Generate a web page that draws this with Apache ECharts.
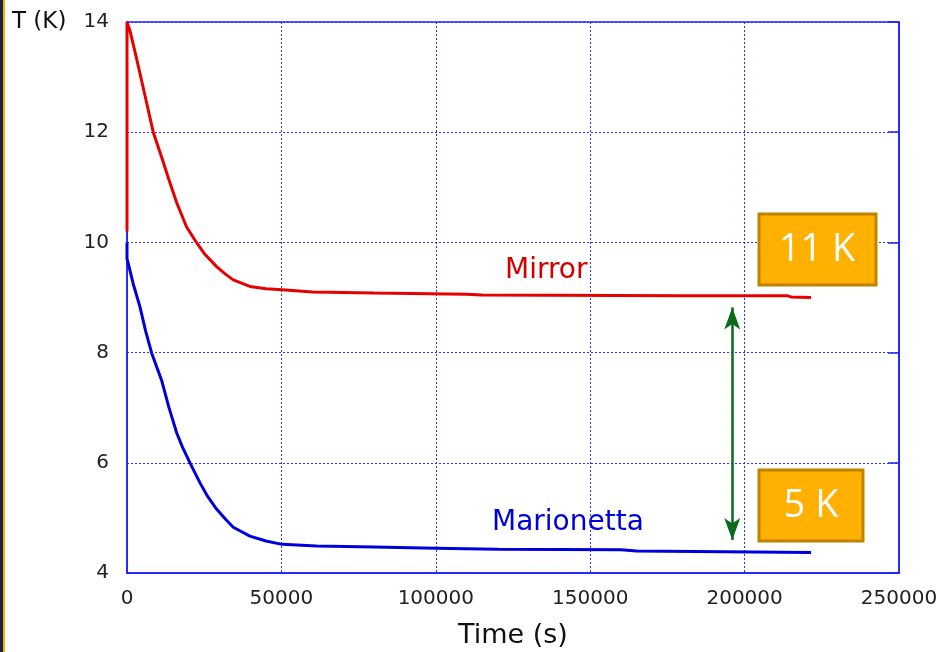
<!DOCTYPE html>
<html>
<head>
<meta charset="utf-8">
<script src="https://cdn.jsdelivr.net/npm/echarts@6/dist/echarts.min.js"></script>
<style>html,body{margin:0;padding:0;background:#fff}#c{width:940px;height:652px}</style>
</head>
<body>
<div id="c"></div>
<script>
// Time (s) vs temperature (K)
const mirrorTime = [0, 0, 970, 2500, 5000, 8500, 11200, 13500, 16100, 19300, 22600, 25000, 29000, 32000, 34400, 39800, 45000, 50200, 60000, 80000, 110000, 115000, 180000, 214000, 215000, 221500];
const mirrorTemp = [10.2, 14.0, 13.84, 13.48, 12.87, 12.0, 11.55, 11.15, 10.72, 10.28, 9.99, 9.8, 9.56, 9.42, 9.32, 9.2, 9.16, 9.14, 9.1, 9.08, 9.06, 9.045, 9.03, 9.03, 9.01, 9.0];
const marionettaTime = [0, 0, 400, 2000, 4200, 6000, 8000, 11200, 13500, 16100, 18000, 20400, 23600, 26000, 29000, 32000, 34400, 39800, 45000, 50200, 61400, 80000, 100000, 120000, 160000, 165000, 221500];
const marionettaTemp = [10.0, 9.7, 9.62, 9.25, 8.83, 8.4, 7.99, 7.5, 7.02, 6.54, 6.28, 6.0, 5.64, 5.4, 5.16, 4.97, 4.83, 4.67, 4.58, 4.52, 4.49, 4.47, 4.45, 4.43, 4.42, 4.4, 4.37];
const xTicks = [0, 50000, 100000, 150000, 200000, 250000];
const yTicks = [4, 6, 8, 10, 12, 14];
const gapTime = 196000;
const gapTop = 8.82;
const gapBottom = 4.6;
const seriesNames = ['Mirror', 'Marionetta'];
const boxLabels = ['11 K', '5 K'];

const zip = (a, b) => a.map((v, i) => [v, b[i]]);
const chart = echarts.init(document.getElementById('c'));
const axisBlue = '#1f1fff';
const gridStyle = { show: true, lineStyle: { type: [2, 2], color: '#2f2fff', width: 1 } };
const font = '"DejaVu Sans", sans-serif';

chart.setOption({
  backgroundColor: '#ffffff',
  animation: false,
  grid: { left: 127, right: 41, top: 22, bottom: 79, outerBoundsMode: 'none', containLabel: false,
          show: true, borderColor: axisBlue, borderWidth: 1.5, backgroundColor: 'transparent' },
  xAxis: {
    type: 'value', min: xTicks[0], max: xTicks[xTicks.length - 1], interval: 50000,
    axisLine: { show: true, onZero: false, lineStyle: { color: axisBlue, width: 1.5 } },
    axisTick: { show: false },
    splitLine: gridStyle,
    axisLabel: { color: '#222', fontSize: 20, fontFamily: font, margin: 16, formatter: v => String(v) },
    name: 'Time (s)', nameLocation: 'middle', nameGap: 49,
    nameTextStyle: { color: '#111', fontSize: 27, fontFamily: font }
  },
  yAxis: [{
    type: 'value', min: yTicks[0], max: yTicks[yTicks.length - 1], interval: 2,
    axisLine: { show: true, lineStyle: { color: axisBlue, width: 1.5 } },
    axisTick: { show: false },
    splitLine: gridStyle,
    axisLabel: { color: '#222', fontSize: 20, fontFamily: font, margin: 18, formatter: v => String(v) }
  }, {
    type: 'value', min: yTicks[0], max: yTicks[yTicks.length - 1], interval: 2, position: 'right',
    axisLine: { show: true, lineStyle: { color: axisBlue, width: 1.5 } },
    axisTick: { show: true, inside: true, length: 11, lineStyle: { color: axisBlue, width: 1.5 } },
    axisLabel: { show: false }, splitLine: { show: false }
  }],
  series: [
    {
      name: seriesNames[0], type: 'line', data: zip(mirrorTime, mirrorTemp), showSymbol: false,
      lineStyle: { color: '#e60000', width: 3 }, z: 3
    },
    {
      name: seriesNames[1], type: 'line', data: zip(marionettaTime, marionettaTemp), showSymbol: false,
      lineStyle: { color: '#0000dd', width: 3 }, z: 3,
      markLine: {
        silent: true, symbol: ['arrow', 'arrow'], symbolSize: [12, 22],
        label: { show: false },
        lineStyle: { color: '#0b6a1e', width: 2.5, type: 'solid' },
        data: [[{ coord: [gapTime, gapTop] }, { coord: [gapTime, gapBottom] }]]
      }
    }
  ],
  graphic: [
    { type: 'rect', shape: { x: 0, y: 0, width: 3, height: 652 }, style: { fill: '#1b2340' } },
    { type: 'rect', shape: { x: 3, y: 0, width: 2, height: 652 }, style: { fill: '#f2b600' } },
    { type: 'text', x: 12, y: 22, style: { text: 'T (K)', fill: '#111', font: '23px ' + font, textVerticalAlign: 'middle' } },
    { type: 'text', x: 505, y: 271, style: { text: seriesNames[0], fill: '#d40000', font: '28px ' + font, textVerticalAlign: 'middle' } },
    { type: 'text', x: 492, y: 523, style: { text: seriesNames[1], fill: '#0000dd', font: '28px ' + font, textVerticalAlign: 'middle' } },
    { type: 'rect', z: 10, shape: { x: 759, y: 214, width: 117, height: 71 }, style: { fill: '#ffb000', stroke: '#c08300', lineWidth: 3 } },
    { type: 'text', z: 11, x: 817, y: 250, style: { text: boxLabels[0], fill: '#fff', font: '38px "Open Sans", sans-serif', textAlign: 'center', textVerticalAlign: 'middle' } },
    { type: 'rect', z: 10, shape: { x: 759, y: 470, width: 104, height: 71 }, style: { fill: '#ffb000', stroke: '#c08300', lineWidth: 3 } },
    { type: 'text', z: 11, x: 811, y: 506, style: { text: boxLabels[1], fill: '#fff', font: '38px "Open Sans", sans-serif', textAlign: 'center', textVerticalAlign: 'middle' } }
  ]
});
</script>
</body>
</html>
